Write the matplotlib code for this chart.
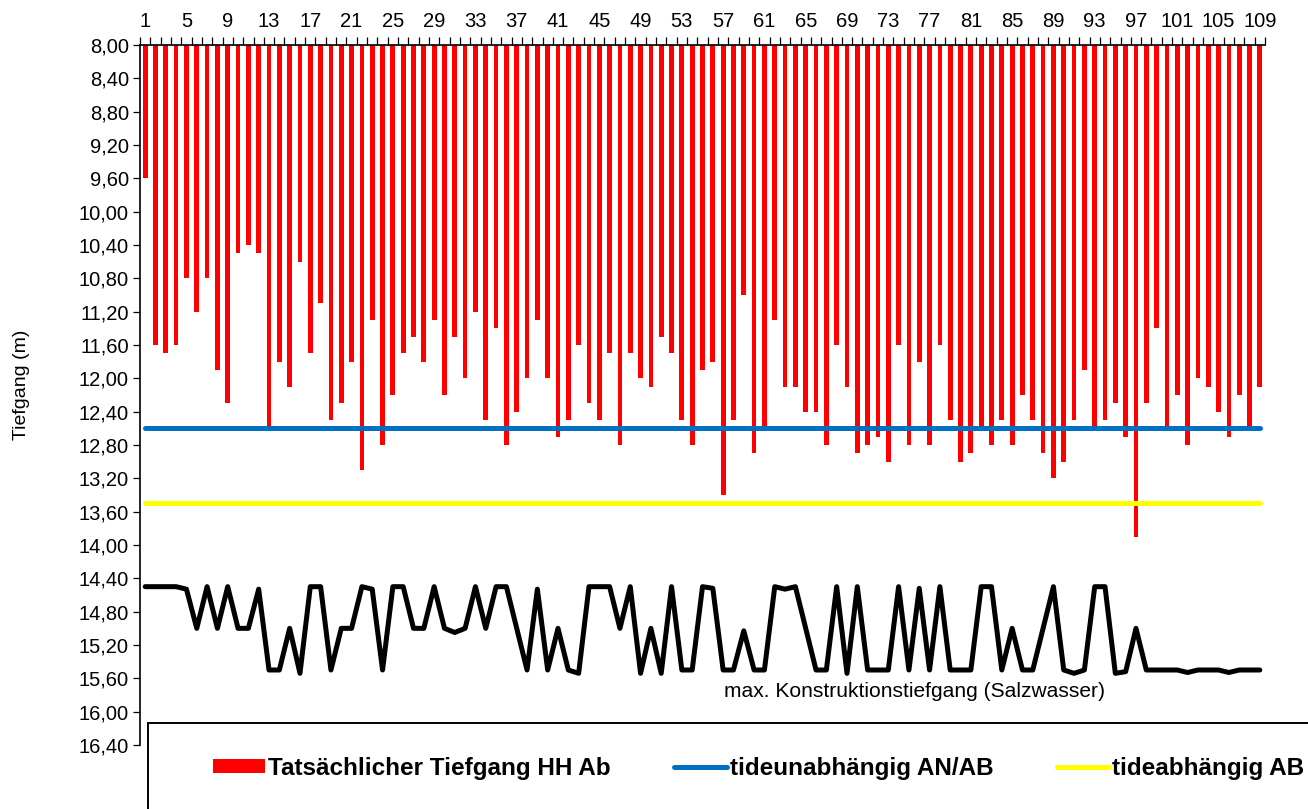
import numpy as np
import matplotlib
matplotlib.use("Agg")
import matplotlib.pyplot as plt
from matplotlib.patches import Rectangle
from matplotlib.ticker import FuncFormatter, FixedLocator

plt.rcParams['font.family'] = ['Liberation Sans', 'DejaVu Sans']

# Tatsaechlicher Tiefgang HH Ab (m), Schiffe 1..109
tiefgang = [
    9.60, 11.60, 11.70, 11.60, 10.80, 11.20, 10.80, 11.90, 12.30, 10.50,
    10.40, 10.50, 12.60, 11.80, 12.10, 10.60, 11.70, 11.10, 12.50, 12.30,
    11.80, 13.10, 11.30, 12.80, 12.20, 11.70, 11.50, 11.80, 11.30, 12.20,
    11.50, 12.00, 11.20, 12.50, 11.40, 12.80, 12.40, 12.00, 11.30, 12.00,
    12.70, 12.50, 11.60, 12.30, 12.50, 11.70, 12.80, 11.70, 12.00, 12.10,
    11.50, 11.70, 12.50, 12.80, 11.90, 11.80, 13.40, 12.50, 11.00, 12.90,
    12.60, 11.30, 12.10, 12.10, 12.40, 12.40, 12.80, 11.60, 12.10, 12.90,
    12.80, 12.70, 13.00, 11.60, 12.80, 11.80, 12.80, 11.60, 12.50, 13.00,
    12.90, 12.60, 12.80, 12.50, 12.80, 12.20, 12.50, 12.90, 13.20, 13.00,
    12.50, 11.90, 12.60, 12.50, 12.30, 12.70, 13.90, 12.30, 11.40, 12.60,
    12.20, 12.80, 12.00, 12.10, 12.40, 12.70, 12.20, 12.60, 12.10,
]

# max. Konstruktionstiefgang (Salzwasser)
konstruktion = [
    14.50, 14.50, 14.50, 14.50, 14.53, 15.00, 14.50, 15.00, 14.50, 15.00,
    15.00, 14.53, 15.50, 15.50, 15.00, 15.54, 14.50, 14.50, 15.50, 15.00,
    15.00, 14.50, 14.53, 15.50, 14.50, 14.50, 15.00, 15.00, 14.50, 15.00,
    15.05, 15.00, 14.50, 15.00, 14.50, 14.50, 15.00, 15.50, 14.53, 15.50,
    15.00, 15.50, 15.54, 14.50, 14.50, 14.50, 15.00, 14.50, 15.54, 15.00,
    15.54, 14.50, 15.50, 15.50, 14.50, 14.52, 15.50, 15.50, 15.03, 15.50,
    15.50, 14.50, 14.53, 14.50, 15.00, 15.50, 15.50, 14.50, 15.54, 14.50,
    15.50, 15.50, 15.50, 14.50, 15.50, 14.52, 15.50, 14.50, 15.50, 15.50,
    15.50, 14.50, 14.50, 15.50, 15.00, 15.50, 15.50, 15.00, 14.50, 15.50,
    15.54, 15.50, 14.50, 14.50, 15.54, 15.52, 15.00, 15.50, 15.50, 15.50,
    15.50, 15.53, 15.50, 15.50, 15.50, 15.53, 15.50, 15.50, 15.50,
]

tideunabhaengig = 12.60
tideabhaengig = 13.50

y_min, y_max, y_step = 8.00, 16.40, 0.40

n = len(tiefgang)
schiffe = np.arange(1, n + 1)

fig = plt.figure(figsize=(13.08, 8.09), dpi=100)
ax = fig.add_axes([140 / 1308, 64 / 809, 1125 / 1308, 700 / 809])

bars = ax.bar(schiffe, np.array(tiefgang) - y_min, bottom=y_min, width=0.46,
              color='#FF0000', label='Tatsächlicher Tiefgang HH Ab', zorder=2)
l_blau, = ax.plot(schiffe, [tideunabhaengig] * n, color='#0070C0', lw=3.6,
                  solid_capstyle='round', label='tideunabhängig AN/AB', zorder=3)
l_gelb, = ax.plot(schiffe, [tideabhaengig] * n, color='#FFFF00', lw=3.6,
                  solid_capstyle='round', label='tideabhängig AB', zorder=3)
ax.plot(schiffe, konstruktion, color='black', lw=3.6, solid_joinstyle='round',
        solid_capstyle='round', zorder=3)

ax.text(75.5, 15.76, 'max. Konstruktionstiefgang (Salzwasser)', ha='center',
        va='center', fontsize=15.1)

ax.set_xlim(0.5, n + 0.5)
ax.set_ylim(y_max, y_min)

# y Achse
ax.set_yticks(np.arange(y_min, y_max + 0.001, y_step))
ax.yaxis.set_major_formatter(FuncFormatter(lambda v, p: f"{v:.2f}".replace('.', ',')))
ax.tick_params(axis='y', direction='out', length=5, width=0.9, pad=3, labelsize=14.5)
ax.set_ylabel('Tiefgang (m)', fontsize=14)
ax.yaxis.set_label_coords(-0.098, 0.514)

# x Achse oben
ax.xaxis.tick_top()
ax.set_xticks(schiffe[::4])
ax.set_xticklabels([str(s) for s in schiffe[::4]])
ax.xaxis.set_minor_locator(FixedLocator(np.arange(0.5, n + 1, 1.0)))
ax.tick_params(axis='x', which='major', length=0, pad=10, labelsize=14.5)
ax.tick_params(axis='x', which='minor', top=True, bottom=False, direction='out',
               length=5.5, width=0.9)

for s in ['right', 'bottom']:
    ax.spines[s].set_visible(False)
for s in ['left', 'top']:
    ax.spines[s].set_linewidth(1.2)

# Legendenkasten
fig.add_artist(Rectangle((148 / 1308, -0.02), 1.0, (809 - 723) / 809 + 0.02,
                         transform=fig.transFigure, facecolor='white',
                         edgecolor='black', lw=1.4, zorder=5))
leg = fig.legend([bars, l_blau, l_gelb],
                 ['Tatsächlicher Tiefgang HH Ab', 'tideunabhängig AN/AB', 'tideabhängig AB'],
                 loc='center left', bbox_to_anchor=(213 / 1308, 41 / 809), ncol=3,
                 frameon=False, borderpad=0, borderaxespad=0, handlelength=2.15,
                 handleheight=0.5, handletextpad=0.12, columnspacing=2.62,
                 prop={'weight': 'bold', 'size': 17.5})
leg.set_zorder(6)

fig.savefig('out.png', dpi=100)
